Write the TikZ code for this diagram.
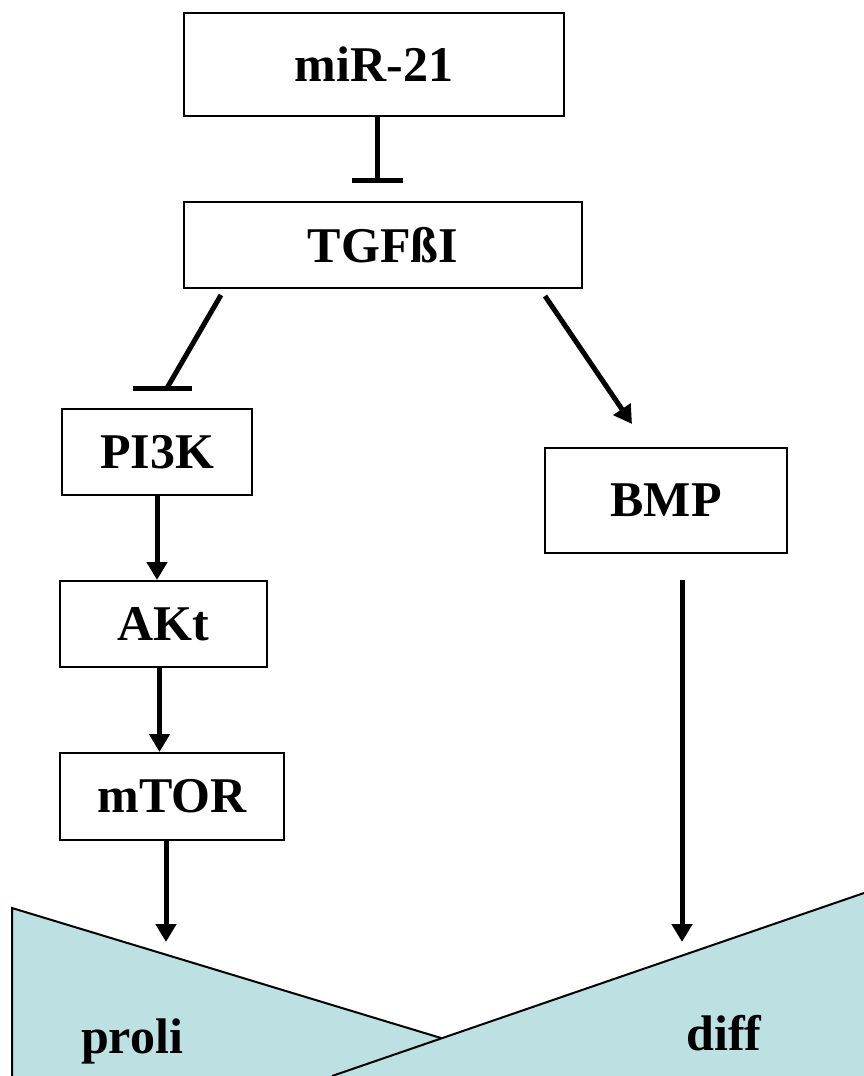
\documentclass[tikz,border=0pt]{standalone}
\usepackage{fontspec}
\setmainfont{Liberation Serif}
\usepackage{tikz}
\usetikzlibrary{arrows.meta}
\definecolor{lightteal}{HTML}{BDE0E3}

\begin{document}
\begin{tikzpicture}[x=1pt,y=-1pt, box/.style={draw,line width=2pt,anchor=north west,inner sep=0pt,font=\fontsize{50}{60}\selectfont\bfseries}, lbl/.style={anchor=base,inner sep=0pt,font=\fontsize{50}{60}\selectfont\bfseries}, act/.style={line width=5pt,-{Triangle[length=18pt,width=20pt]}}, inh/.style={line width=5pt}]
\useasboundingbox (0,0) rectangle (864,1076);
% the two wedges at the bottom
\fill[lightteal] (12,908) -- (441,1038) -- (441,1076) -- (12,1076) -- cycle;
\fill[lightteal] (332,1076) -- (864,893) -- (864,1076) -- cycle;
\draw[line width=2pt] (12,1080) -- (12,908) -- (441,1038);
\draw[line width=2pt] (332,1076) -- (864,893);
\node[lbl] (proli) at (132,1053) {proli};
\node[lbl] (diff) at (724,1050) {diff};

% boxes
\node[box,minimum width=380pt,minimum height=103pt] (mir) at (183,12) {miR-21};
\node[box,minimum width=398pt,minimum height=86pt] (tgf) at (183,201) {TGFßI};
\node[box,minimum width=190pt,minimum height=86pt] (pik) at (61,408) {PI3K};
\node[box,minimum width=207pt,minimum height=86pt] (akt) at (59,580) {AKt};
\node[box,minimum width=224pt,minimum height=87pt] (mtor) at (59,752) {mTOR};
\node[box,minimum width=242pt,minimum height=105pt] (bmp) at (544,447) {BMP};

% end points
\coordinate (i1) at (377,183);
\coordinate (i2s) at (221,295);
\coordinate (i2) at (167,388);
\coordinate (b2l) at (133,388);
\coordinate (b2r) at (192,388);
\coordinate (a1s) at (545,296);
\coordinate (a1) at (632,424);
\coordinate (proliIn) at (166,942);
\coordinate (bmpOut) at (682,580);
\coordinate (diffIn) at (682,942);

% connectors
\draw[inh,-{Bar[width=51pt]}] (mir.south -| i1) -- (i1);
\draw[inh] (i2s) -- (i2);
\draw[inh] (b2l) -- (b2r);
\draw[act] (a1s) -- (a1);
\draw[act] (pik.south) -- (pik.south |- akt.north);
\draw[act] ([xshift=-4pt]akt.south) -- ([xshift=-4pt]akt.south |- mtor.north);
\draw[act] (mtor.south -| proliIn) -- (proliIn);
\draw[act] (bmpOut) -- (diffIn);
\end{tikzpicture}
\end{document}
